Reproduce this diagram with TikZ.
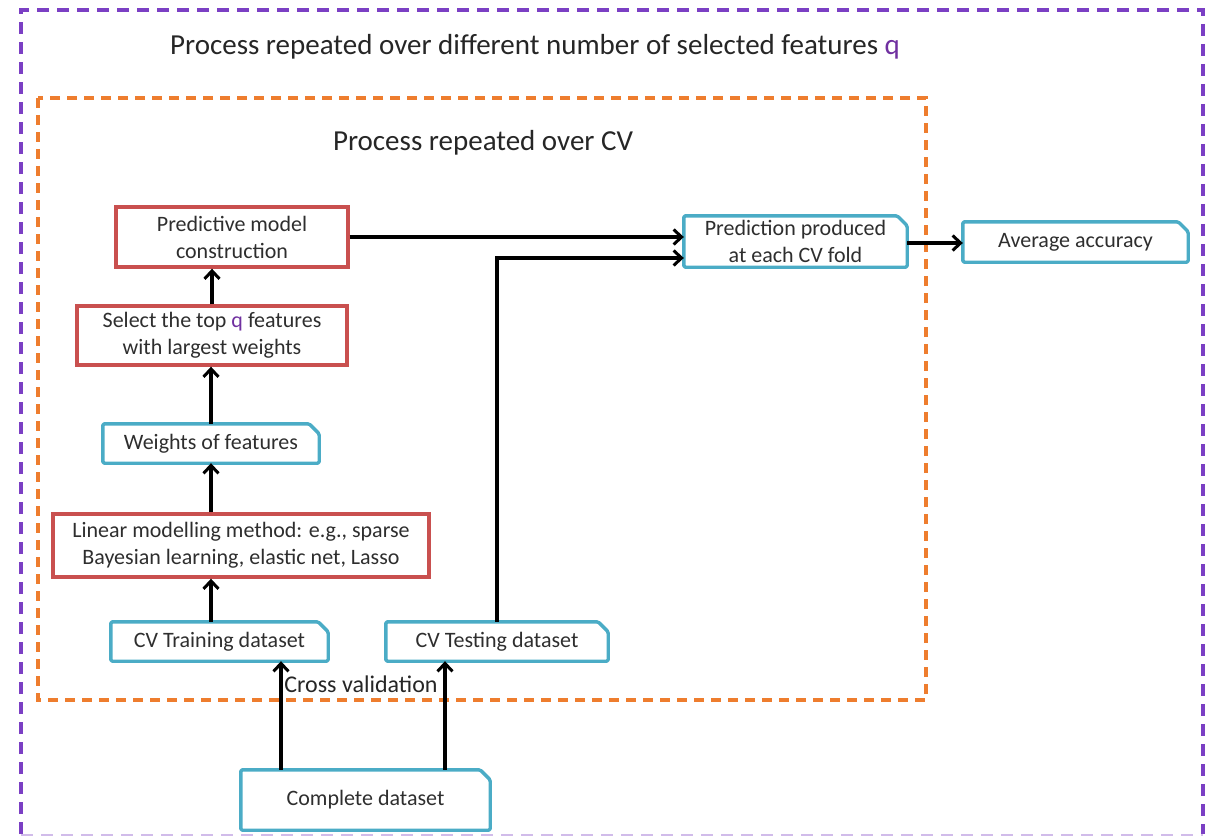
\documentclass[tikz,border=0pt]{standalone}
\usepackage{fontspec}
\setmainfont{Carlito}
\usetikzlibrary{arrows.meta}
\definecolor{qpurple}{HTML}{7030A0}
\definecolor{outerline}{HTML}{7B3FC4}
\definecolor{innerline}{HTML}{EE7D2E}
\definecolor{redline}{HTML}{C9504F}
\definecolor{blueline}{HTML}{4BACC6}
\definecolor{txt}{HTML}{2E2E2E}
\tikzset{
  redbox/.style={draw=redline, line width=3.4pt, inner sep=0pt, align=center,
    text=txt, font=\fontsize{22}{27}\selectfont},
  bluebox/.style={inner sep=0pt, align=center, text=txt,
    font=\fontsize{22}{27}\selectfont},
  snip/.style={draw=blueline, line width=3.4pt, rounded corners=1.5pt, line join=round},
  arr/.style={draw=black, line width=3.6pt,
    -{Straight Barb[length=8pt,width=15pt,line width=3pt]}},
  heading/.style={text=black!85, font=\fontsize{29}{34}\selectfont, inner sep=0pt},
}
\newcommand{\snipoutline}[1]{%
  \draw[snip] (#1.south west) -- (#1.north west) -- ([xshift=-10pt]#1.north east)
    -- ([yshift=-10pt]#1.north east) -- (#1.south east) -- cycle;}
\begin{document}
\begin{tikzpicture}[x=1pt,y=-1pt]
\useasboundingbox (0,0) rectangle (1206,837);

% outer loop frame
\draw[outerline, line width=4pt, dash pattern=on 12pt off 8pt]
  (21,834) -- (21,10) -- (1203,10) -- (1203,834);
\draw[outerline!35, line width=2.5pt, dash pattern=on 12pt off 8pt]
  (21,835) -- (1203,835);
% cross-validation frame
\draw[innerline, line width=3.4pt, dash pattern=on 10pt off 7pt]
  (38,98) rectangle (926,700);

\node[heading] (outerT) at (535,47)
  {Process repeated over different number of selected features {\color{qpurple}q}};
\node[heading] (innerT) at (483,143) {Process repeated over CV};

% processing steps
\node[redbox, minimum width=232pt, minimum height=60pt] (pmc) at (232,237)
  {Predictive model\\construction};
\node[redbox, minimum width=270pt, minimum height=59pt] (sel) at (212,335.5)
  {Select the top {\color{qpurple}q} features\\with largest weights};
\node[bluebox, minimum width=216pt, minimum height=39pt] (wf) at (211,443.5)
  {Weights of features};
\node[redbox, minimum width=376pt, minimum height=63pt] (lin) at (241,545.5)
  {Linear modelling method: e.g., sparse\\Bayesian learning, elastic net, Lasso};
\node[bluebox, minimum width=217pt, minimum height=39pt] (train) at (219.5,641.5)
  {CV Training dataset};
\node[bluebox, minimum width=222pt, minimum height=39pt] (test) at (497,641.5)
  {CV Testing dataset};
\node[bluebox, minimum width=249pt, minimum height=60pt] (full) at (365.5,800)
  {\raisebox{-3pt}{Complete dataset}};
\node[bluebox, minimum width=223pt, minimum height=51pt] (pred) at (795.5,241.5)
  {Prediction produced\\at each CV fold};
\node[bluebox, minimum width=225pt, minimum height=40pt] (avg) at (1075.5,242)
  {\raisebox{-2pt}{Average accuracy}};

\foreach \n in {wf,train,test,full,pred,avg} {\snipoutline{\n}}

% connectors
\draw[arr] (sel.north) -- (sel.north |- pmc.south);
\draw[arr] (wf.north) -- (wf.north |- sel.south);
\draw[arr] (wf.south |- lin.north) -- (wf.south);
\draw[arr] (wf.south |- train.north) -- (wf.south |- lin.south);

\coordinate (fullL) at ([xshift=-84.5pt]full.north);
\coordinate (fullR) at ([xshift=79.5pt]full.north);
\draw[arr] (fullL) -- (fullL |- train.south);
\draw[arr] (fullR) -- (fullR |- test.south);

\coordinate (predIn) at ([yshift=-16.5pt]pred.west);
\draw[arr] (pmc.east) -- (pmc.east -| pred.west);
\draw[arr] (test.north) |- (predIn);
\draw[arr] ([yshift=-1.5pt]pred.east) -- ([yshift=-1.5pt]pred.east -| avg.west);

\node[text=black!85, font=\fontsize{24}{28}\selectfont, inner sep=0pt] (cvlab)
  at (361,684) {Cross validation};
\end{tikzpicture}
\end{document}
